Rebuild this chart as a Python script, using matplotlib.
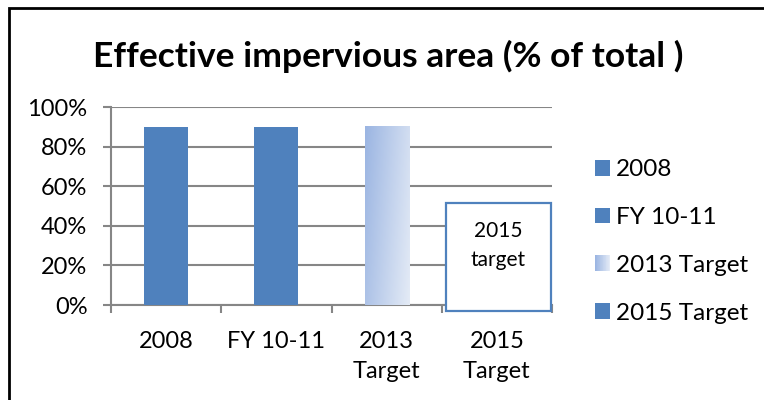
import numpy as np
import matplotlib
matplotlib.use("Agg")
import matplotlib.pyplot as plt
from matplotlib.patches import Rectangle
from matplotlib.legend_handler import HandlerBase
from matplotlib.colors import LinearSegmentedColormap

# chart data
categories = ["2008", "FY 10-11", "2013\nTarget", "2015\nTarget"]
series_names = ["2008", "FY 10-11", "2013 Target", "2015 Target"]
values = [0.90, 0.90, 0.90, 0.0]
y_ticks = [0, 0.2, 0.4, 0.6, 0.8, 1.0]
y_tick_labels = ["0%", "20%", "40%", "60%", "80%", "100%"]

blue = "#4F81BD"
grid_gray = "#868686"
grad = LinearSegmentedColormap.from_list("grad", ["#9BB5E2", "#E4EBF6"])

plt.rcParams["font.family"] = ["Lato", "DejaVu Sans"]

fig = plt.figure(figsize=(7.64, 4.0), dpi=100)
W, H = 764, 400
ax = fig.add_axes([111 / W, 1 - 305 / H, 441 / W, 198 / H])

x = np.arange(len(categories))
bars = ax.bar(x, values, width=0.4, color=blue, zorder=3)

# gradient fill for the 2013 Target bar
b = bars[2]
b.set_facecolor("none")
gx, gy = np.meshgrid(np.linspace(0, 1, 60), np.linspace(0, 1, 60))
ax.imshow(0.75 * gx + 0.25 * gy, cmap=grad, aspect="auto", origin="upper",
          extent=[b.get_x(), b.get_x() + b.get_width(), 0, b.get_height()],
          clip_path=b, zorder=3)

ax.set_xlim(-0.5, len(categories) - 0.5)
ax.set_ylim(0, 1)

ax.set_yticks(y_ticks)
ax.set_yticklabels(y_tick_labels)
ax.yaxis.grid(True, color=grid_gray, linewidth=1.5)
ax.set_axisbelow(True)

ax.set_xticks(x)
ax.set_xticklabels(categories, linespacing=1.5)
ax.set_xticks(np.arange(len(categories) + 1) - 0.5, minor=True)
ax.tick_params(axis="x", which="major", length=0, pad=19, labelsize=17)
ax.tick_params(axis="x", which="minor", length=6, width=1.5, color=grid_gray)
ax.tick_params(axis="y", length=6, width=1.5, color=grid_gray, pad=11, labelsize=17)

for s in ["top", "right"]:
    ax.spines[s].set_visible(False)
for s in ["left", "bottom"]:
    ax.spines[s].set_color(grid_gray)
    ax.spines[s].set_linewidth(1.5)

# "2015 target" callout box over the last category
bx0, bx1 = 3 - 51 / 110, 3 + 54 / 110
by0, by1 = -6 / 198, 102 / 198
ax.add_patch(Rectangle((bx0, by0), bx1 - bx0, by1 - by0, facecolor="white",
                       edgecolor=blue, linewidth=1.6, zorder=5, clip_on=False))
ax.text((bx0 + bx1) / 2, by1 - 0.09, "2015\ntarget", ha="center", va="top",
        fontsize=15, linespacing=1.55, zorder=6)

fig.text(388 / W, 1 - 56 / H, "Effective impervious area (% of total )",
         ha="center", va="center", fontsize=25.5, fontweight="bold")


class GradHandler(HandlerBase):
    def create_artists(self, legend, orig_handle, xdescent, ydescent,
                       width, height, fontsize, trans):
        n = 20
        out = []
        for i in range(n):
            out.append(Rectangle((-xdescent + width * i / n, -ydescent), width / n, height,
                                 facecolor=grad(i / (n - 1)), edgecolor="none",
                                 transform=trans))
        return out


handles = [bars[0], bars[1], bars[2], bars[3]]
leg = fig.legend(handles, series_names, loc="center left",
                 bbox_to_anchor=(595 / W, 1 - 241.5 / H), frameon=False,
                 fontsize=17.5, handlelength=0.62, handleheight=0.62,
                 handletextpad=0.25, labelspacing=1.1, borderpad=0, borderaxespad=0,
                 handler_map={bars[2]: GradHandler()})
for h in leg.legend_handles[:2] + leg.legend_handles[3:]:
    h.set_facecolor(blue)

# outer chart border (cropped at right and bottom)
fig.add_artist(Rectangle((9 / W, -0.1), 1.2, 1.1 - 8 / H, transform=fig.transFigure,
                         facecolor="none", edgecolor="black", linewidth=2))

fig.savefig("out.png", dpi=100)
